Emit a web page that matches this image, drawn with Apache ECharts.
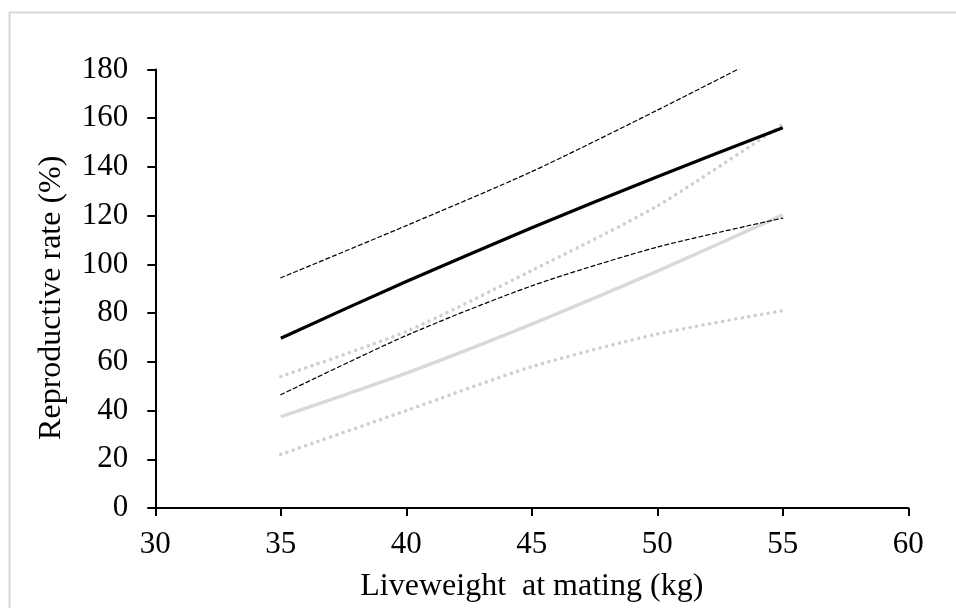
<!DOCTYPE html>
<html>
<head>
<meta charset="utf-8">
<script src="https://cdn.jsdelivr.net/npm/echarts@6/dist/echarts.min.js"></script>
<style>
html,body{margin:0;padding:0;background:#fff;}
#c{width:956px;height:608px;}
</style>
</head>
<body>
<div id="c"></div>
<script>
// Liveweight at mating (kg)
var liveweight = [35, 40, 45, 50, 55];
// Grey series (lower group)
var greyMean  = [37.5, 55.4, 75.5, 97.2, 120.3];
var greyUpper = [54.0, 72.5, 97.5, 124.0, 157.5];
var greyLower = [22.0, 40.0, 58.0, 71.4, 81.0];
// Black series (upper group)
var blackMean  = [69.7, 93.0, 115.0, 136.0, 156.1];
var blackUpper = [94.5, 115.9, 138.1, 163.3, 189.5];
var blackLower = [46.5, 70.8, 91.2, 107.1, 119.0];
// Axis ticks
var xTicks = [30, 35, 40, 45, 50, 55, 60];
var yTicks = [0, 20, 40, 60, 80, 100, 120, 140, 160, 180];

function pairs(ys){ return liveweight.map(function(x,i){ return [x, ys[i]]; }); }

var font = 'Liberation Serif, Times New Roman, serif';
var chart = echarts.init(document.getElementById('c'), null, {renderer:'canvas'});

function line(name, ys, color, width, dash, z){
  return {
    name: name, type: 'line', data: pairs(ys), smooth: 0.25, symbol: 'none',
    clip: true, z: z,
    lineStyle: {color: color, width: width, type: dash || 'solid', cap: dash ? 'round' : 'butt'}
  };
}

chart.setOption({
  animation: false,
  backgroundColor: '#ffffff',
  graphic: [{
    type: 'rect', left: 7, top: 10, shape: {width: 1000, height: 1000},
    style: {fill: 'none', stroke: '#d9d9d9', lineWidth: 2}, silent: true, z: -10
  }],
  grid: {left: 155.3, right: 47.7, top: 69.5, bottom: 97.3, containLabel: false},
  xAxis: {
    type: 'value', min: xTicks[0], max: xTicks[xTicks.length-1], interval: 5,
    name: 'Liveweight  at mating (kg)', nameLocation: 'middle', nameGap: 63,
    nameTextStyle: {fontFamily: font, fontSize: 32, color: '#000'},
    axisLine: {show: true, onZero: false, lineStyle: {color: '#000', width: 2}},
    axisTick: {show: true, inside: false, length: 8, lineStyle: {color: '#000', width: 2}},
    axisLabel: {fontFamily: font, fontSize: 31, color: '#000', margin: 21},
    splitLine: {show: false}
  },
  yAxis: {
    type: 'value', min: yTicks[0], max: yTicks[yTicks.length-1], interval: 20,
    name: 'Reproductive rate (%)', nameLocation: 'middle', nameGap: 88, nameRotate: 90,
    nameTextStyle: {fontFamily: font, fontSize: 32, color: '#000', padding: [0, 18, 0, 0]},
    axisLine: {show: true, lineStyle: {color: '#000', width: 2}},
    axisTick: {show: true, inside: false, length: 8, lineStyle: {color: '#000', width: 2}},
    axisLabel: {fontFamily: font, fontSize: 31, color: '#000', margin: 27},
    splitLine: {show: false}
  },
  series: [
    line('Grey lower', greyLower, '#cfcfcf', 3.5, [0.1, 6.5], 2),
    line('Grey upper', greyUpper, '#cfcfcf', 3.5, [0.1, 6.5], 2),
    line('Grey mean', greyMean, '#d9d9d9', 3.5, null, 3),
    line('Black lower', blackLower, '#000', 1.2, [4, 3], 4),
    line('Black upper', blackUpper, '#000', 1.2, [4, 3], 4),
    line('Black mean', blackMean, '#000', 3.2, null, 5)
  ]
});
</script>
</body>
</html>
